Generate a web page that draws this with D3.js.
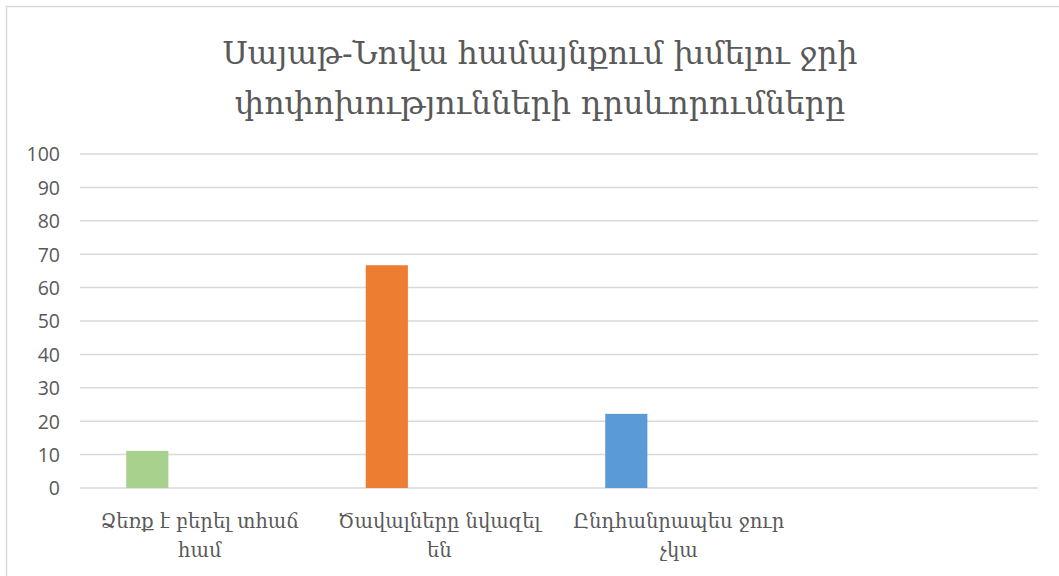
<!DOCTYPE html>
<html>
<head>
<meta charset="utf-8">
<script src="https://cdn.jsdelivr.net/npm/d3@7"></script>
<style>
  html, body { margin: 0; padding: 0; background: #fff; }
  svg { display: block; }
</style>
</head>
<body>
<svg id="chart" width="1059" height="576"></svg>
<script>
const titleLines = ["Սայաթ-Նովա համայնքում խմելու ջրի", "փոփոխությունների դրսևորումները"];
const categories = ["Ձեռք է բերել տհաճ\nհամ", "Ծավալները նվազել\nեն", "Ընդհանրապես  ջուր\nչկա", ""];
const values = [11.1, 66.7, 22.2, null];
const barColors = ["#A9D18E", "#ED7D31", "#5B9BD5", "#A5A5A5"];
const yTicks = [0, 10, 20, 30, 40, 50, 60, 70, 80, 90, 100];

const svg = d3.select("#chart");
const W = 1059, H = 576;

// outer border (chart area frame)
svg.append("rect")
  .attr("x", 6.5).attr("y", 6.5)
  .attr("width", W + 10).attr("height", H + 10)
  .attr("fill", "#fff").attr("stroke", "#d9d9d9").attr("stroke-width", 1.5);

const plot = { left: 80, right: 1038, top: 154, bottom: 488 };

const x = d3.scaleBand().domain(d3.range(categories.length))
  .range([plot.left, plot.right]).padding(0);
const y = d3.scaleLinear().domain([0, 100]).range([plot.bottom, plot.top]);

// title
const title = svg.append("text")
  .attr("text-anchor", "middle")
  .attr("font-family", "'DejaVu Serif', serif")
  .attr("font-size", 31.5)
  .attr("fill", "#595959");
titleLines.forEach((t, i) => {
  title.append("tspan").attr("x", 540).attr("y", 64 + i * 50).text(t);
});

// gridlines
svg.append("g").selectAll("line").data(yTicks).join("line")
  .attr("x1", plot.left).attr("x2", plot.right)
  .attr("y1", d => y(d)).attr("y2", d => y(d))
  .attr("stroke", "#d9d9d9").attr("stroke-width", 1.5);

// y axis labels
const yAxis = d3.axisLeft(y).tickValues(yTicks).tickSize(0).tickPadding(0);
const yg = svg.append("g").attr("transform", `translate(60,0)`).call(yAxis);
yg.select(".domain").remove();
yg.selectAll("text")
  .attr("font-family", "'Open Sans', 'Liberation Sans', sans-serif")
  .attr("font-size", 19.5)
  .attr("fill", "#595959")
  .attr("dy", "0.35em");

// bars
const bw = x.bandwidth();
const barW = bw * 0.176;
const barOff = bw * 0.193;
svg.append("g").selectAll("rect")
  .data(values.map((v, i) => ({ v, i })).filter(d => d.v != null))
  .join("rect")
  .attr("x", d => x(d.i) + barOff)
  .attr("y", d => y(d.v))
  .attr("width", barW)
  .attr("height", d => y(0) - y(d.v))
  .attr("fill", d => barColors[d.i]);

// category labels
const xl = svg.append("g");
categories.forEach((c, i) => {
  if (!c) return;
  const t = xl.append("text")
    .attr("text-anchor", "middle")
    .attr("font-family", "'DejaVu Serif', serif")
    .attr("font-size", 19.5)
    .attr("fill", "#595959");
  c.split("\n").forEach((line, j) => {
    t.append("tspan").attr("x", x(i) + bw / 2).attr("y", 528 + j * 29).text(line);
  });
});
</script>
</body>
</html>
